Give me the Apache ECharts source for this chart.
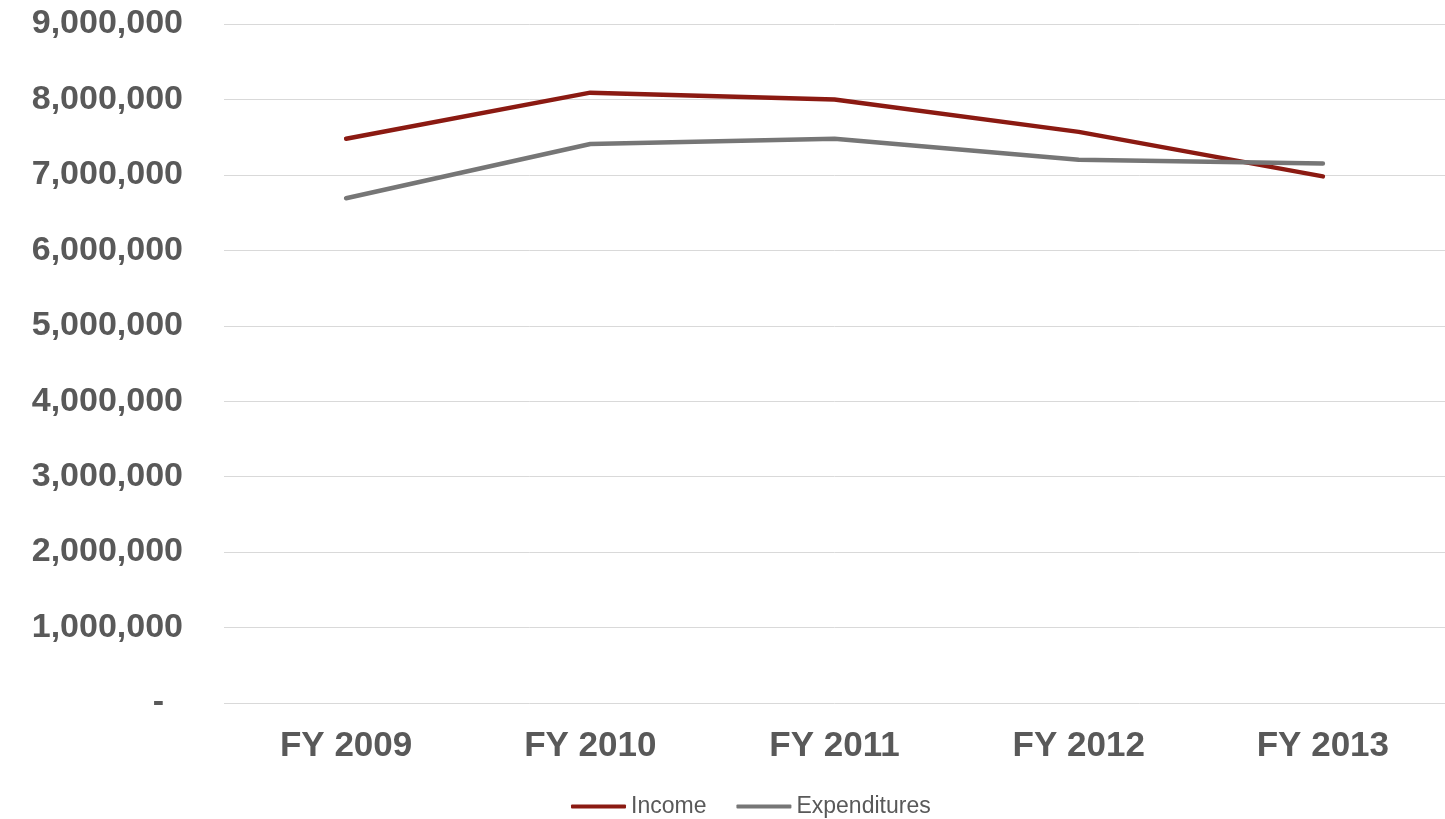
<!DOCTYPE html>
<html>
<head>
<meta charset="utf-8">
<script src="https://cdn.jsdelivr.net/npm/echarts@6/dist/echarts.min.js"></script>
<style>
  html, body { margin: 0; padding: 0; background: #fff; }
  #main { width: 1445px; height: 819px; }
</style>
</head>
<body>
<div id="main"></div>
<script>
  const years = ['FY 2009', 'FY 2010', 'FY 2011', 'FY 2012', 'FY 2013']
  const income = [7480000, 8090000, 8000000, 7570000, 6980000]
  const expenditures = [6690000, 7410000, 7480000, 7200000, 7150000]

  const chart = echarts.init(document.getElementById('main'))
  const font = '"Liberation Sans", Arial, sans-serif'

  chart.setOption({
    backgroundColor: '#fff',
    animation: false,
    grid: {
      left: 224,
      top: 24,
      width: 1228,
      height: 679
    },
    legend: {
      data: ['Income', 'Expenditures'],
      left: 566,
      top: 790,
      itemWidth: 55,
      itemHeight: 4,
      itemGap: 30,
      icon: 'roundRect',
      textStyle: {
        color: '#595959',
        fontSize: 23,
        fontFamily: font
      }
    },
    xAxis: {
      type: 'category',
      data: years,
      boundaryGap: true,
      axisLine: { show: false },
      axisTick: { show: false },
      axisLabel: {
        color: '#595959',
        fontSize: 35,
        fontWeight: 'bold',
        fontFamily: font,
        margin: 26
      }
    },
    yAxis: {
      type: 'value',
      min: 0,
      max: 9000000,
      interval: 1000000,
      axisLine: { show: false },
      axisTick: { show: false },
      splitLine: { lineStyle: { color: '#d9d9d9', width: 1 } },
      axisLabel: {
        color: '#595959',
        fontSize: 34,
        fontWeight: 'bold',
        fontFamily: font,
        margin: 41,
        formatter: function (v) {
          if (v === 0) return '-  '
          return v.toLocaleString('en-US')
        }
      }
    },
    series: [{
      name: 'Income',
      type: 'line',
      data: income,
      symbol: 'none',
      lineStyle: { color: '#8b1a12', width: 4.5, cap: 'round' },
      itemStyle: { color: '#8b1a12' }
    }, {
      name: 'Expenditures',
      type: 'line',
      data: expenditures,
      symbol: 'none',
      lineStyle: { color: '#767676', width: 4.5, cap: 'round' },
      itemStyle: { color: '#767676' }
    }]
  })
</script>
</body>
</html>
